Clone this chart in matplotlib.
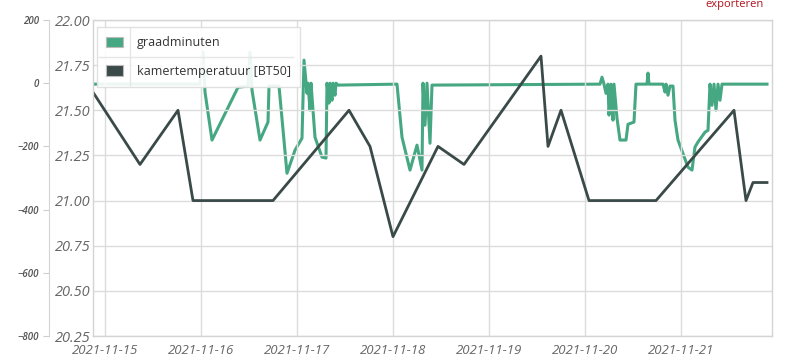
import numpy as np
import pandas as pd
import matplotlib
matplotlib.use("Agg")
import matplotlib.pyplot as plt
from matplotlib.patches import Patch
from matplotlib.lines import Line2D

plt.rcParams['font.family'] = ['Open Sans', 'DejaVu Sans']

# kamertemperatuur [BT50]
temp_time = ["2021-11-14 21:00", "2021-11-15 08:45", "2021-11-15 18:15", "2021-11-15 22:00",
             "2021-11-16 18:00", "2021-11-17 13:00", "2021-11-17 18:15", "2021-11-18 00:00",
             "2021-11-18 11:15", "2021-11-18 17:45", "2021-11-19 13:00", "2021-11-19 14:45",
             "2021-11-19 18:00", "2021-11-20 01:00", "2021-11-20 17:45", "2021-11-21 13:15",
             "2021-11-21 16:15", "2021-11-21 18:00", "2021-11-21 21:30"]
temp_val = [21.6, 21.2, 21.5, 21.0, 21.0, 21.5, 21.3, 20.8, 21.3, 21.2, 21.8, 21.3,
            21.5, 21.0, 21.0, 21.5, 21.0, 21.1, 21.1]

# graadminuten
gm_time = ["2021-11-14 21:00", "2021-11-15 23:45", "2021-11-16 00:30", "2021-11-16 01:00",
           "2021-11-16 02:45", "2021-11-16 09:15", "2021-11-16 11:45", "2021-11-16 12:15",
           "2021-11-16 12:45", "2021-11-16 14:45", "2021-11-16 16:45", "2021-11-16 17:00",
           "2021-11-16 19:30", "2021-11-16 21:30", "2021-11-16 23:30", "2021-11-17 01:15",
           "2021-11-17 01:45", "2021-11-17 02:30", "2021-11-17 02:45", "2021-11-17 03:15",
           "2021-11-17 03:30", "2021-11-17 04:30", "2021-11-17 06:15", "2021-11-17 07:15",
           "2021-11-17 07:30", "2021-11-17 08:00", "2021-11-17 08:15", "2021-11-17 08:45",
           "2021-11-17 09:00", "2021-11-17 09:30", "2021-11-17 09:45", "2021-11-17 10:15",
           "2021-11-18 01:00", "2021-11-18 02:15", "2021-11-18 04:15", "2021-11-18 06:00",
           "2021-11-18 07:15", "2021-11-18 07:30", "2021-11-18 08:00", "2021-11-18 08:30",
           "2021-11-18 09:15", "2021-11-18 09:45", "2021-11-20 03:45", "2021-11-20 04:15",
           "2021-11-20 04:45", "2021-11-20 05:15", "2021-11-20 05:45", "2021-11-20 06:00",
           "2021-11-20 06:30", "2021-11-20 07:00", "2021-11-20 07:15", "2021-11-20 08:00",
           "2021-11-20 08:45", "2021-11-20 10:15", "2021-11-20 10:45", "2021-11-20 12:15",
           "2021-11-20 12:45", "2021-11-20 15:30", "2021-11-20 15:45", "2021-11-20 16:00",
           "2021-11-20 19:30", "2021-11-20 20:00", "2021-11-20 20:15", "2021-11-20 20:45",
           "2021-11-20 21:15", "2021-11-20 22:00", "2021-11-20 22:30", "2021-11-20 23:15",
           "2021-11-21 01:45", "2021-11-21 02:45", "2021-11-21 03:30", "2021-11-21 04:15",
           "2021-11-21 06:00", "2021-11-21 06:45", "2021-11-21 07:15", "2021-11-21 07:45",
           "2021-11-21 08:15", "2021-11-21 08:45", "2021-11-21 09:15", "2021-11-21 09:45",
           "2021-11-21 10:15", "2021-11-21 11:00", "2021-11-21 21:30"]
gm_val = [-3, -3, 98, -28, -180, -13, -9, 98, -22, -180, -123, -9,
          -9, -285, -212, -174, 73, -32, 0, -85, 0, -171, -234, -237,
          0, -63, 0, -54, 0, -38, 0, -6, -3, -171, -275, -196,
          -275, 0, -133, 0, -190, -6, -3, 19, -3, -32, -3, -101,
          -3, -117, -3, -111, -180, -180, -130, -123, -3, -3, 32, -3,
          -3, -28, -3, -38, -9, -9, -117, -180, -266, -275, -202, -186,
          -155, -149, -3, -70, -3, -85, -3, -54, -3, -3, -3]

temp_ticks = [20.25, 20.50, 20.75, 21.00, 21.25, 21.50, 21.75, 22.00]
gm_ticks = [-800, -600, -400, -200, 0, 200]
day_ticks = ["2021-11-15", "2021-11-16", "2021-11-17", "2021-11-18",
             "2021-11-19", "2021-11-20", "2021-11-21"]

green = '#46a882'
dark = '#3a4a48'
gridc = '#dcdcdc'

fig = plt.figure(figsize=(8, 3.61), dpi=100)
ax = fig.add_axes([93/800, 25/361, 679/800, 316/361])
ax2 = ax.twinx()

# green series on the outer axis, temperature drawn on top
ax2.plot(pd.to_datetime(gm_time), gm_val, color=green, lw=2.2)
ax.plot(pd.to_datetime(temp_time), temp_val, color=dark, lw=2.0)

ax.set_zorder(ax2.get_zorder() + 1)
ax.patch.set_visible(False)

ax.set_xlim(pd.Timestamp("2021-11-14 21:00"), pd.Timestamp("2021-11-21 22:45"))
ax.set_ylim(20.25, 22.0)
ax2.set_ylim(-800, 200)

ax.set_yticks(temp_ticks)
ax.set_yticklabels(['%.2f' % t for t in temp_ticks])
ax.set_xticks(pd.to_datetime(day_ticks))
ax.set_xticklabels(day_ticks)
ax.grid(True, color=gridc, lw=1)
ax.set_axisbelow(True)
ax.tick_params(axis='both', length=0, colors='#666666')
ax.tick_params(axis='y', pad=2, labelsize=10.5)
ax.tick_params(axis='x', pad=6, labelsize=9.5)
for lab in ax.get_xticklabels() + ax.get_yticklabels():
    lab.set_fontstyle('italic')
for s in ax.spines.values():
    s.set_color('#d4d4d4')
    s.set_linewidth(1)

# outer axis for graadminuten
ax2.yaxis.set_ticks_position('left')
ax2.yaxis.set_label_position('left')
ax2.spines['left'].set_position(('outward', 31.5))
ax2.spines['left'].set_color('#d4d4d4')
for k in ['right', 'top', 'bottom']:
    ax2.spines[k].set_visible(False)
ax2.set_yticks(gm_ticks)
ax2.tick_params(axis='y', length=4.5, color='#cccccc', labelcolor='#555555',
                labelsize=7, pad=3)
for lab in ax2.get_yticklabels():
    lab.set_fontstyle('italic')
    lab.set_fontweight('semibold')

handles = [Patch(facecolor=green, edgecolor='#bbbbbb', lw=0.8),
           Patch(facecolor=dark, edgecolor='#bbbbbb', lw=0.8)]
leg = ax.legend(handles, ['graadminuten', 'kamertemperatuur [BT50]'],
                loc='upper left', bbox_to_anchor=(0.006, 0.978), borderaxespad=0,
                fontsize=9, handlelength=1.35, handleheight=0.95, handletextpad=1.1,
                labelspacing=1.25, borderpad=0.75, fancybox=False, framealpha=0.9,
                edgecolor='#dddddd', labelcolor='#333333')
leg.get_frame().set_linewidth(1)

# table-like separators inside the legend box
fig.add_artist(Line2D([130/800, 130/800], [1 - 27/361, 1 - 86/361], color='#e6e6e6', lw=1))
fig.add_artist(Line2D([97/800, 293/800], [1 - 57/361, 1 - 57/361], color='#e6e6e6', lw=1))

fig.text(735/800, 1 - 4/361, 'exporteren', color='#b0131e', fontsize=8,
         ha='center', va='center')

fig.savefig('out.png', dpi=100)
